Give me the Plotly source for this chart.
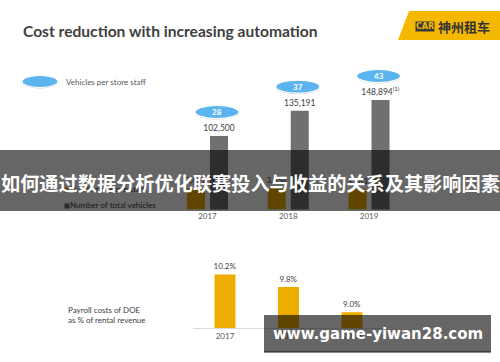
import plotly.graph_objects as go

W, H = 500, 362

# ---------------- data ----------------
years = ["2017", "2018", "2019"]
total_vehicles = [102500, 135191, 148894]
vehicle_footnotes = ["", "", "<sup>(1)</sup>"]
store_staff = [3661, 3654, 3463]
vehicles_per_staff = [28, 37, 43]
payroll_pct = [10.2, 9.8, 9.0]

title_text = "Cost reduction with increasing automation"
legend_ellipse_label = "Vehicles per store staff"
legend_staff_label = "Number of store staff"
legend_vehicles_label = "Number of total vehicles"
payroll_label = "Payroll costs of DOE<br>as % of rental revenue"
banner_text = "如何通过数据分析优化联赛投入与收益的关系及其影响因素"
watermark_text = "www.game-yiwan28.com"
logo_mark = "CAR"
logo_text = "神州租车"

# ---------------- style ----------------
ORANGE = "#EFAC00"
GRAY = "#707070"
BLUE = "#5BB4EE"
TXT = "#404040"
TICK = "#595959"
FONT = "Lato"

BAR_W = 0.223          # category units, top chart
ORANGE_OFF = -0.254
GRAY_OFF = 0.031
GRAY_CENTER = GRAY_OFF + BAR_W / 2


def px(x):
    return x / W


def py(y):
    return 1 - y / H


fig = go.Figure()

# top chart: store staff (secondary axis) and total vehicles
fig.add_trace(go.Bar(
    x=years, y=store_staff, xaxis="x", yaxis="y2",
    offset=ORANGE_OFF, width=BAR_W, marker=dict(color=ORANGE, line=dict(width=0)),
    text=[f"{v:,}" for v in store_staff], textposition="outside", constraintext="none",
    textfont=dict(family=FONT, size=8, color=TXT), showlegend=False, hoverinfo="skip"))
fig.add_trace(go.Bar(
    x=years, y=total_vehicles, xaxis="x", yaxis="y",
    offset=GRAY_OFF, width=BAR_W, marker=dict(color=GRAY, line=dict(width=0)),
    text=[f"{v:,}{f}" for v, f in zip(total_vehicles, vehicle_footnotes)],
    textposition="outside", constraintext="none",
    textfont=dict(family=FONT, size=8.5, color=TXT), showlegend=False, hoverinfo="skip"))

# bottom chart: payroll costs
fig.add_trace(go.Bar(
    x=years, y=payroll_pct, xaxis="x2", yaxis="y3",
    width=0.33, marker=dict(color=ORANGE, line=dict(width=0)),
    text=[f"{v:.1f}%" for v in payroll_pct], textposition="outside", constraintext="none",
    textfont=dict(family=FONT, size=8, color=TXT), showlegend=False, hoverinfo="skip"))

# legend glyphs and texts drawn in the plot layer (under the banner)
fig.add_trace(go.Scatter(
    x=[67, 67], y=[190, 206], xaxis="x3", yaxis="y4", mode="markers",
    marker=dict(symbol="square", size=5, color=[ORANGE, GRAY]),
    showlegend=False, hoverinfo="skip"))
fig.add_trace(go.Scatter(
    x=[70, 70], y=[190, 206], xaxis="x3", yaxis="y4", mode="text",
    text=[legend_staff_label, legend_vehicles_label], textposition="middle right",
    textfont=dict(family=FONT, size=8, color=TXT),
    showlegend=False, hoverinfo="skip"))

shapes = []
annotations = []

# ellipses above total vehicle bars
for i, (v, n) in enumerate(zip(total_vehicles, vehicles_per_staff)):
    xa = i + GRAY_CENTER
    shapes.append(dict(type="circle", xref="x", yref="y", xsizemode="pixel", ysizemode="pixel",
                       xanchor=xa, yanchor=v, x0=-24, x1=20, y0=16.5, y1=29.5,
                       fillcolor="#C8C8C8", line=dict(width=0), layer="above"))
    shapes.append(dict(type="circle", xref="x", yref="y", xsizemode="pixel", ysizemode="pixel",
                       xanchor=xa, yanchor=v, x0=-24, x1=20, y0=17.5, y1=30.5,
                       fillcolor=BLUE, line=dict(color="white", width=1.2), layer="above"))
    annotations.append(dict(xref="x", yref="y", x=xa, y=v, yshift=24, xshift=-2,
                            text=f"<b>{n}</b>", showarrow=False,
                            font=dict(family=FONT, size=8, color="white")))

# legend ellipse
shapes.append(dict(type="circle", xref="paper", yref="paper",
                   x0=px(22), x1=px(58), y0=py(88.5), y1=py(75.5),
                   fillcolor="#C8C8C8", line=dict(width=0), layer="above"))
shapes.append(dict(type="circle", xref="paper", yref="paper",
                   x0=px(22), x1=px(58), y0=py(87.5), y1=py(75.5),
                   fillcolor=BLUE, line=dict(color="white", width=1.2), layer="above"))
annotations.append(dict(xref="paper", yref="paper", x=px(64), y=py(82), xanchor="left",
                        yanchor="middle", text=legend_ellipse_label, showarrow=False,
                        font=dict(family=FONT, size=8, color=TICK)))

# title
annotations.append(dict(xref="paper", yref="paper", x=px(21), y=py(31), xanchor="left",
                        yanchor="middle", text=title_text, showarrow=False,
                        font=dict(family=FONT, size=15.6, color=TXT, weight=700)))

# logo
shapes.append(dict(type="path", xref="paper", yref="paper",
                   path=f"M {px(398)} {py(40)} L {px(409)} {py(11)} L 1 {py(11)} L 1 {py(40)} Z",
                   fillcolor="#F5B800", line=dict(width=0), layer="above"))
annotations.append(dict(xref="paper", yref="paper", x=px(425), y=py(27), xanchor="center",
                        yanchor="middle", text=f"<b>{logo_mark}</b>", showarrow=False,
                        bgcolor="#3A3A3A", borderpad=0,
                        font=dict(family="DejaVu Sans", size=8, color="#F5B800")))
annotations.append(dict(xref="paper", yref="paper", x=px(464), y=py(27), xanchor="center",
                        yanchor="middle", text=logo_text, showarrow=False,
                        font=dict(family="Noto Sans CJK SC", size=13, color="#333333", weight=700)))

# payroll label
annotations.append(dict(xref="paper", yref="paper", x=px(66), y=py(315), xanchor="left",
                        yanchor="middle", align="left", text=payroll_label, showarrow=False,
                        font=dict(family=FONT, size=8, color=TXT)))

# banner overlay
shapes.append(dict(type="rect", xref="paper", yref="paper", x0=0, x1=1,
                   y0=py(211), y1=py(150), fillcolor="rgba(0,0,0,0.6)",
                   line=dict(width=0), layer="above"))
annotations.append(dict(xref="paper", yref="paper", x=0.5, y=py(183), xanchor="center",
                        yanchor="middle", text=banner_text, showarrow=False,
                        font=dict(family="Noto Sans CJK SC", size=19.2, color="white", weight=700)))

# watermark
shapes.append(dict(type="rect", xref="paper", yref="paper", x0=px(264), x1=px(491),
                   y0=py(352), y1=py(315), fillcolor="rgba(0,0,0,0.6)",
                   line=dict(width=0), layer="above"))
shapes.append(dict(type="line", xref="paper", yref="paper", x0=px(264), x1=px(491),
                   y0=py(352), y1=py(352), line=dict(color="#111111", width=1.2), layer="above"))
annotations.append(dict(xref="paper", yref="paper", x=px(377.5), y=py(334), xanchor="center",
                        yanchor="middle", text=f"<b>{watermark_text}</b>", showarrow=False,
                        font=dict(family="DejaVu Sans", size=15, color="white")))

fig.update_layout(
    width=W, height=H, margin=dict(l=0, r=0, t=0, b=0),
    paper_bgcolor="white", plot_bgcolor="rgba(0,0,0,0)",
    font=dict(family=FONT),
    showlegend=False,
    xaxis=dict(domain=[px(167.1), px(409.4)], anchor="y", type="category",
               range=[-0.5, 2.5], showgrid=False, zeroline=False, showline=False,
               ticks="", tickfont=dict(family=FONT, size=8, color=TICK)),
    yaxis=dict(domain=[py(209.5), py(60)], range=[7760, 200460], visible=False),
    yaxis2=dict(overlaying="y", range=[0, 25400], visible=False),
    xaxis2=dict(domain=[px(193.25), px(383.75)], anchor="y3", type="category",
                range=[-0.5, 2.5], showgrid=False, zeroline=False, showline=True,
                linecolor="#D9D9D9", linewidth=1,
                ticks="", tickfont=dict(family=FONT, size=8, color=TICK)),
    yaxis3=dict(domain=[py(328), py(250)], range=[8.5, 10.976], visible=False),
    xaxis3=dict(domain=[0, 1], range=[0, W], visible=False, anchor="y4"),
    yaxis4=dict(domain=[0, 1], range=[H, 0], visible=False, anchor="x3"),
    shapes=shapes, annotations=annotations,
)

fig.write_html("out.html", config={"displayModeBar": False},
               post_script="document.body.style.margin='0';document.body.style.padding='0';")
